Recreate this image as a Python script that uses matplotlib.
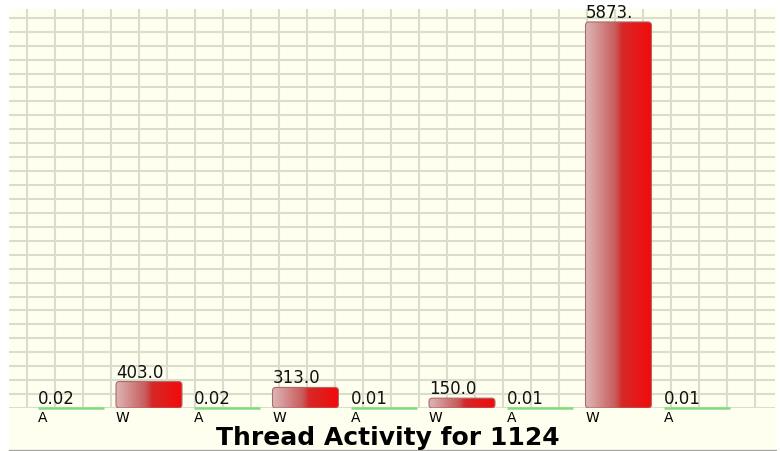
import numpy as np
import matplotlib
matplotlib.use('Agg')
import matplotlib.pyplot as plt
import matplotlib.ticker as ticker
from matplotlib.colors import LinearSegmentedColormap
from matplotlib.patches import Rectangle, FancyBboxPatch
from matplotlib.lines import Line2D

# thread activity data
categories = ['A', 'W', 'A', 'W', 'A', 'W', 'A', 'W', 'A']
values = [0.02, 403.0, 0.02, 313.0, 0.01, 150.0, 0.01, 5873.0, 0.01]
title = 'Thread Activity for 1124'

ivory = '#fffff0'
grid_col = '#dcdccc'
green = '#7ede7e'

# red bar gradient, light on the left, bright red on the right
bar_cmap = LinearSegmentedColormap.from_list(
    'redbar', [(0.0, '#dcb4b4'), (0.45, '#c85a5a'), (0.55, '#d62828'), (1.0, '#f30a0a')])

fig = plt.figure(figsize=(7.8, 4.51), dpi=100)
fig.patch.set_facecolor('white')
# ivory panel behind the whole chart + thin grey line under it
fig.patches.append(Rectangle((9 / 780, 2 / 451), 767 / 780, 440 / 451, transform=fig.transFigure,
                             facecolor=ivory, edgecolor='none', zorder=-5))
fig.lines.append(Line2D([9 / 780, 776 / 780], [1.2 / 451, 1.2 / 451], transform=fig.transFigure,
                        color='#a8a8a0', linewidth=1))

ax = fig.add_axes([9 / 780, 43 / 451, 766 / 780, 399 / 451])
ax.set_facecolor(ivory)

x = np.arange(len(categories))
width = 0.843
ymax = 6070

bars = ax.bar(x, values, width=width, color='none', edgecolor='none', zorder=3)
grad = np.linspace(0, 1, 64).reshape(1, -1)
for rect, c, v in zip(bars, categories, values):
    x0, w, h = rect.get_x(), rect.get_width(), rect.get_height()
    if c == 'W':
        im = ax.imshow(grad, cmap=bar_cmap, aspect='auto', extent=[x0, x0 + w, 0, h],
                       interpolation='bicubic', zorder=3)
        # rounded top corners (~3px)
        edge = FancyBboxPatch((x0, 0), w, h, boxstyle='round,pad=0,rounding_size=0.045',
                              mutation_aspect=(3.5 * ymax / 399) / 0.045,
                              facecolor='none', edgecolor='#b06868', linewidth=0.8, zorder=4)
        ax.add_patch(edge)
        im.set_clip_path(edge)
        lab = f'{v:.1f}'[:5]
    else:
        # near-zero values show as a thin green line on the baseline
        ax.plot([x0, x0 + w], [0, 0], color=green, linewidth=1.8, zorder=4,
                solid_capstyle='butt', clip_on=False)
        lab = f'{v:.2f}'
    ax.text(x0, h, lab, ha='left', va='bottom', fontsize=12, color='#111111',
            family='DejaVu Sans', zorder=5)

ax.set_xlim(-0.789, 9.0)
ax.set_ylim(0, ymax)

# grid
ax.set_xticks(np.arange(-0.558, 9.0, 0.3578), minor=True)
ax.yaxis.set_major_locator(ticker.MultipleLocator(212))
ax.grid(which='minor', axis='x', color=grid_col, linewidth=1.5, zorder=1)
ax.grid(which='major', axis='y', color=grid_col, linewidth=1.5, zorder=1)
ax.set_axisbelow(True)

ax.set_xticks(x - width / 2)
ax.set_xticklabels(categories, ha='left', fontsize=10)
ax.tick_params(axis='x', which='both', length=0, pad=2)
ax.tick_params(axis='y', length=0, labelleft=False)
for s in ax.spines.values():
    s.set_visible(False)

fig.text(0.497, 0.029, title, ha='center', va='center', fontsize=18,
         fontweight='bold', family='DejaVu Sans')

fig.savefig('out.png', dpi=100, facecolor=fig.get_facecolor())
